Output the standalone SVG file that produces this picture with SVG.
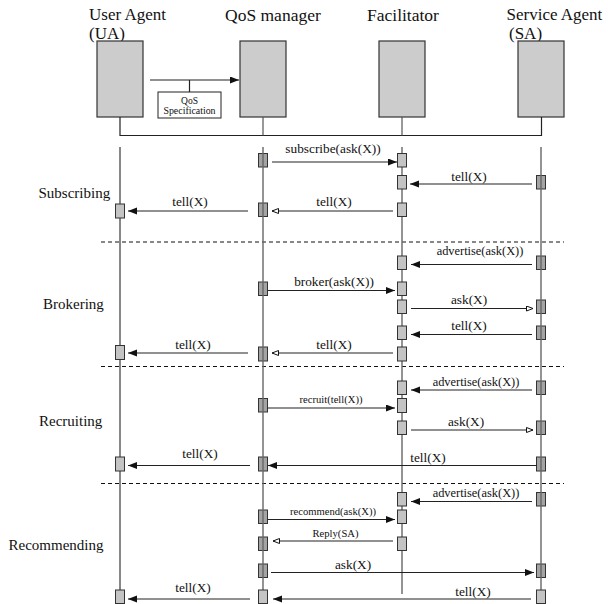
<svg xmlns="http://www.w3.org/2000/svg" width="608" height="604" viewBox="0 0 608 604">
<style>
text{font-family:"Liberation Serif","Times New Roman",serif;fill:#111}
.hd{font-size:17.5px}
.hd2{font-size:17px}
.sec{font-size:15px}
.lb{font-size:13.3px;text-anchor:middle}
.lbs{font-size:12.4px;text-anchor:middle}
.sm{font-size:10.6px;text-anchor:middle}
.big{fill:#cccccc;stroke:#333;stroke-width:1.2}
.lt{fill:#c4c4c4;stroke:#333;stroke-width:1}
.dk{fill:#a4a4a4;stroke:#333;stroke-width:1}
.ll{stroke:#666;stroke-width:1.4;fill:none}
.llb{stroke:#111;stroke-width:1;fill:none}
.msg{stroke:#222;stroke-width:1.2;fill:none}
.f{marker-end:url(#af)}
.o{marker-end:url(#ao)}
.dash{stroke:#111;stroke-width:1;stroke-dasharray:4 3}
</style>
<defs>
<marker id="af" markerUnits="userSpaceOnUse" markerWidth="10" markerHeight="8" refX="9" refY="3.5" orient="auto"><path d="M0,0 L9,3.5 L0,7 Z" fill="#111"/></marker>
<marker id="ao" markerUnits="userSpaceOnUse" markerWidth="9" markerHeight="8" refX="7" refY="3" orient="auto"><path d="M0.5,0.5 L7,3 L0.5,5.5 Z" fill="#fff" stroke="#111" stroke-width="1"/></marker>
</defs>

<!-- header nodes -->
<g id="ua">
<text class="hd2" x="89" y="19.5">User Agent</text>
<text class="hd2" x="89" y="39">(UA)</text>
<rect class="big" x="97" y="41" width="46" height="76"/>
</g>
<g id="qos">
<text class="hd" x="225" y="20.5">QoS manager</text>
<rect class="big" x="240" y="41" width="46" height="76"/>
</g>
<g id="fac">
<text class="hd" x="367" y="20.5">Facilitator</text>
<rect class="big" x="379" y="41" width="46" height="76"/>
</g>
<g id="sa">
<text class="hd2" x="506.5" y="19.5">Service Agent</text>
<text class="hd2" x="509" y="39">(SA)</text>
<rect class="big" x="518" y="41" width="46" height="76"/>
</g>
<g id="spec">
<rect x="158" y="92" width="63" height="26" fill="#fff" stroke="#222" stroke-width="1"/>
<text x="189.5" y="103.5" style="font-size:9.5px;text-anchor:middle">QoS</text>
<text x="189.5" y="114" style="font-size:9.9px;text-anchor:middle">Specification</text>
</g>

<g id="header-connectors">
<line class="msg f" x1="150" y1="80" x2="239" y2="80"/>
<line class="msg" x1="189.5" y1="80" x2="189.5" y2="92"/>
<polyline fill="none" stroke="#222" stroke-width="1.2" points="120,117 120,135.5 541.5,135.5 541.5,117"/>
<line stroke="#555" stroke-width="1.2" x1="263" y1="117" x2="263" y2="135.5"/>
<line stroke="#555" stroke-width="1.2" x1="402" y1="117" x2="402" y2="135.5"/>
</g>

<!-- section labels -->
<g id="sections">
<text class="sec" x="38.5" y="198">Subscribing</text>
<text class="sec" x="43" y="309">Brokering</text>
<text class="sec" x="39" y="426">Recruiting</text>
<text class="sec" x="8.5" y="550">Recommending</text>
<line class="dash" x1="101" y1="242" x2="564" y2="242"/>
<line class="dash" x1="101" y1="366.5" x2="564" y2="366.5"/>
<line class="dash" x1="101" y1="483.5" x2="564" y2="483.5"/>
</g>

<!-- lifelines under boxes -->
<g id="lifelines-under">
<line class="llb" x1="120" y1="147" x2="120" y2="592"/>
<line class="ll" x1="402" y1="147" x2="402" y2="594"/>
</g>

<!-- activation boxes -->
<g id="activations">
<rect class="lt" x="115.5" y="204" width="9" height="14"/>
<rect class="lt" x="115.5" y="345.5" width="9" height="14"/>
<rect class="lt" x="115.5" y="457" width="9" height="14"/>
<rect class="lt" x="115.5" y="590" width="9" height="13.5"/>

<rect class="dk" x="258.5" y="153.5" width="9" height="13.5"/>
<rect class="dk" x="258.5" y="203" width="9" height="13.5"/>
<rect class="dk" x="258.5" y="282" width="9" height="13.5"/>
<rect class="dk" x="258.5" y="347" width="9" height="14"/>
<rect class="dk" x="258.5" y="398.5" width="9" height="13.5"/>
<rect class="dk" x="258.5" y="457" width="9" height="14"/>
<rect class="dk" x="258.5" y="510" width="9" height="13.5"/>
<rect class="dk" x="258.5" y="537" width="9" height="13.5"/>
<rect class="dk" x="258.5" y="564" width="9" height="13.5"/>

<rect class="lt" x="397.5" y="153.5" width="9" height="13.5"/>
<rect class="lt" x="397.5" y="175.5" width="9" height="13.5"/>
<rect class="lt" x="397.5" y="203" width="9" height="13.5"/>
<rect class="lt" x="397.5" y="256" width="9" height="13.5"/>
<rect class="lt" x="397.5" y="282" width="9" height="13.5"/>
<rect class="lt" x="397.5" y="300" width="9" height="13.5"/>
<rect class="lt" x="397.5" y="326" width="9" height="13.5"/>
<rect class="lt" x="397.5" y="347" width="9" height="14"/>
<rect class="lt" x="397.5" y="381" width="9" height="13.5"/>
<rect class="lt" x="397.5" y="398.5" width="9" height="14"/>
<rect class="lt" x="397.5" y="421" width="9" height="13.5"/>
<rect class="lt" x="397.5" y="492.5" width="9" height="13.5"/>
<rect class="lt" x="397.5" y="510" width="9" height="13.5"/>
<rect class="lt" x="397.5" y="537" width="9" height="13.5"/>

<rect class="dk" x="536.5" y="175.5" width="9" height="13.5"/>
<rect class="dk" x="536.5" y="256" width="9" height="13.5"/>
<rect class="dk" x="536.5" y="300" width="9" height="13.5"/>
<rect class="dk" x="536.5" y="326" width="9" height="13.5"/>
<rect class="dk" x="536.5" y="381" width="9" height="13.5"/>
<rect class="dk" x="536.5" y="421" width="9" height="13.5"/>
<rect class="dk" x="536.5" y="457" width="9" height="14"/>
<rect class="dk" x="536.5" y="492.5" width="9" height="13.5"/>
<rect class="dk" x="536.5" y="564" width="9" height="13.5"/>
</g>

<!-- lifelines over boxes -->
<g id="lifelines-over">
<line class="ll" x1="263" y1="147" x2="263" y2="590"/>
<line class="ll" x1="541" y1="147" x2="541" y2="590"/>
</g>
<g id="last-boxes">
<rect class="lt" x="258.5" y="590" width="9" height="13.5"/>
<rect class="lt" x="536.5" y="590" width="9" height="13.5"/>
</g>

<!-- messages -->
<g id="connectors">
<line class="msg f" x1="272" y1="162" x2="397" y2="162"/>
<line class="msg f" x1="532" y1="184" x2="410" y2="184"/>
<line class="msg o" x1="393" y1="211" x2="272" y2="211"/>
<line class="msg f" x1="248" y1="211" x2="128" y2="211"/>

<line class="msg f" x1="532" y1="264.5" x2="411" y2="264.5"/>
<line class="msg f" x1="267.5" y1="290.5" x2="395" y2="290.5"/>
<line class="msg o" x1="411" y1="308.5" x2="533" y2="308.5"/>
<line class="msg f" x1="532" y1="334.5" x2="411" y2="334.5"/>
<line class="msg o" x1="393" y1="353" x2="272" y2="353"/>
<line class="msg f" x1="248" y1="353" x2="128" y2="353"/>

<line class="msg f" x1="532" y1="390" x2="411" y2="390"/>
<line class="msg f" x1="267.5" y1="408" x2="395" y2="408"/>
<line class="msg o" x1="411" y1="430" x2="533" y2="430"/>
<line class="msg f" x1="537" y1="465.5" x2="268" y2="465.5"/>
<line class="msg f" x1="250" y1="465.5" x2="128" y2="465.5"/>

<line class="msg f" x1="532" y1="501.5" x2="411" y2="501.5"/>
<line class="msg f" x1="267.5" y1="519.5" x2="395" y2="519.5"/>
<line class="msg o" x1="393" y1="541" x2="273" y2="541"/>
<line class="msg f" x1="271" y1="572.5" x2="534" y2="572.5"/>
<line class="msg f" x1="531" y1="599" x2="273" y2="599"/>
<line class="msg f" x1="250" y1="599" x2="128" y2="599"/>
</g>

<g id="labels">
<text class="lb" x="333" y="153">subscribe(ask(X))</text>
<text class="lb" x="469" y="180.5">tell(X)</text>
<text class="lb" x="334" y="206">tell(X)</text>
<text class="lb" x="190" y="206">tell(X)</text>

<text class="lbs" x="480" y="255">advertise(ask(X))</text>
<text class="lb" x="334" y="285.5">broker(ask(X))</text>
<text class="lb" x="469" y="304">ask(X)</text>
<text class="lb" x="469" y="330">tell(X)</text>
<text class="lb" x="334" y="348.5">tell(X)</text>
<text class="lb" x="193" y="348.5">tell(X)</text>

<text class="lbs" x="476" y="385.5">advertise(ask(X))</text>
<text class="sm" x="331" y="403">recruit(tell(X))</text>
<text class="lb" x="466" y="426">ask(X)</text>
<text class="lb" x="428" y="461.5">tell(X)</text>
<text class="lb" x="200" y="457.5">tell(X)</text>

<text class="lbs" x="476" y="497">advertise(ask(X))</text>
<text class="sm" x="333" y="515">recommend(ask(X))</text>
<text class="sm" x="335.5" y="537">Reply(SA)</text>
<text class="lb" x="353" y="568.5">ask(X)</text>
<text class="lb" x="473" y="596">tell(X)</text>
<text class="lb" x="193" y="592">tell(X)</text>
</g>
</svg>
